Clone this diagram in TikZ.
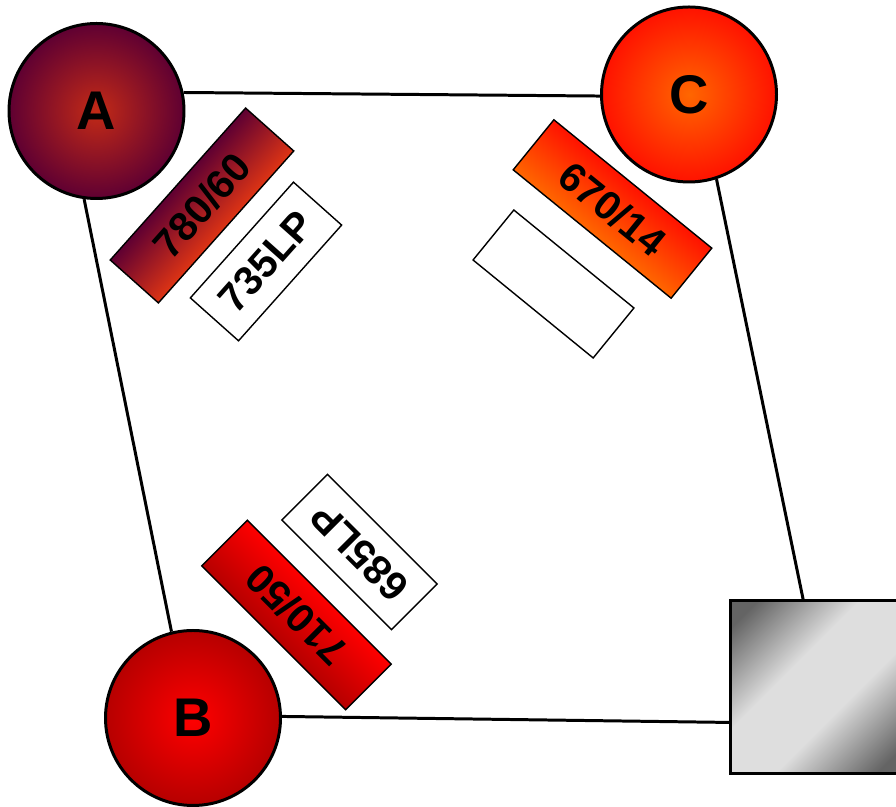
\documentclass[tikz,border=0pt]{standalone}
\usepackage{fontspec}
\setmainfont{Liberation Sans}
\definecolor{plumdark}{RGB}{95,0,50}
\definecolor{plumred}{RGB}{195,42,22}
\definecolor{rustred}{RGB}{222,52,20}
\definecolor{flame}{RGB}{255,18,0}
\definecolor{amber}{RGB}{255,102,0}
\definecolor{brightred}{RGB}{255,0,0}
\definecolor{deepred}{RGB}{182,0,0}
\definecolor{steelgray}{RGB}{100,100,100}
\definecolor{palegray}{RGB}{222,222,222}
\pgfdeclareverticalshading{plate}{100bp}{color(0bp)=(steelgray); color(20bp)=(steelgray); color(41bp)=(palegray); color(59bp)=(palegray); color(80bp)=(steelgray); color(100bp)=(steelgray)}

\begin{document}
\begin{tikzpicture}[spot/.style={circle, draw=black, line width=1.7pt, minimum size=3.5cm, inner sep=0pt, font=\fontsize{31}{31}\selectfont\bfseries},
filt/.style={rectangle, draw=black, line width=0.8pt, minimum height=1.29cm, inner sep=0pt, font=\fontsize{23}{23}\selectfont\bfseries},
wire/.style={line width=1.7pt}]
\useasboundingbox (0,0) rectangle (17.92,16.14);

\node[spot, inner color=plumred, outer color=plumdark] (A) at (1.93,13.92) {A};
\node[spot, inner color=amber, outer color=flame] (C) at (13.78,14.25) {C};
\node[spot, inner color=brightred, outer color=deepred] (B) at (3.86,1.78) {B};
\node[rectangle, draw=black, line width=1.4pt, minimum size=3.46cm, shading=plate, shading angle=45] (D) at (16.34,2.40) {};

\begin{scope}[transform canvas={shift={(4.04,12.03)}, rotate=48.3}]
\node[filt, minimum width=4.07cm, top color=plumdark, bottom color=rustred] (f780) at (0,0) {780/60};
\end{scope}
\begin{scope}[transform canvas={shift={(5.32,10.91)}, rotate=48.3}]
\node[filt, minimum width=3.1cm, fill=white] (f735) at (0,0) {735LP};
\end{scope}
\begin{scope}[transform canvas={shift={(12.25,11.96)}, rotate=-39.1}]
\node[filt, minimum width=4.07cm, top color=flame, bottom color=amber] (f670) at (0,0) {670/14};
\end{scope}
\begin{scope}[transform canvas={shift={(11.07,10.46)}, rotate=-39.2}]
\node[filt, minimum width=3.1cm, fill=white] (fempty) at (0,0) {};
\end{scope}
\begin{scope}[transform canvas={shift={(5.93,3.84)}, rotate=135}]
\node[filt, minimum width=4.07cm, top color=deepred, bottom color=brightred] (f710) at (0,0) {710/50};
\end{scope}
\begin{scope}[transform canvas={shift={(7.19,5.10)}, rotate=135}]
\node[filt, minimum width=3.1cm, fill=white] (f685) at (0,0) {685LP};
\end{scope}

\draw[wire] (A.12.6) -- (C.181.6);
\draw[wire] (A.262) -- (B.104);
\draw[wire] (C.288) -- (D.99);
\draw[wire] (B.1.3) -- (D.202.8);
\end{tikzpicture}
\end{document}
